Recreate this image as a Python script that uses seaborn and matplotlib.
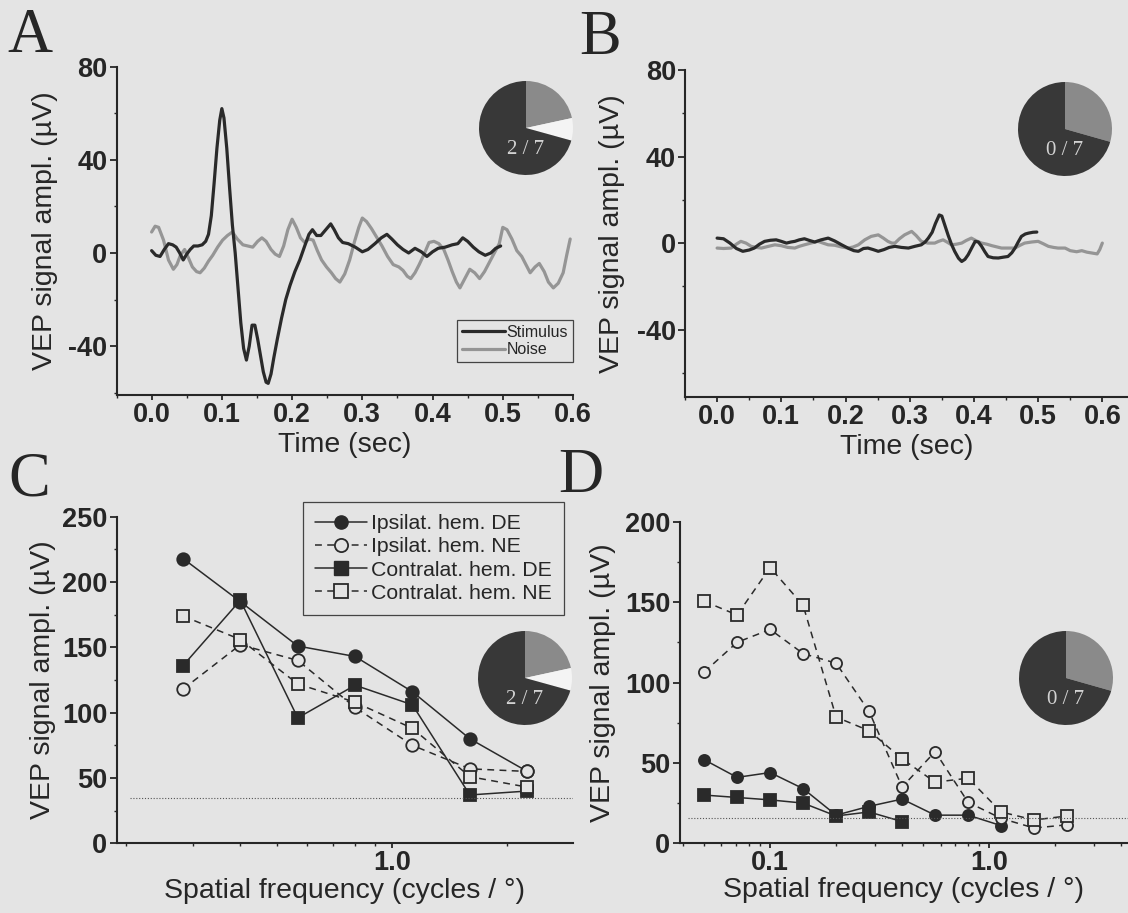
import numpy as np
import pandas as pd
import matplotlib
matplotlib.use("Agg")
import matplotlib.pyplot as plt
import seaborn as sns
from matplotlib.lines import Line2D
from matplotlib.ticker import (MultipleLocator, FixedLocator, FormatStrFormatter,
                               LogLocator, NullFormatter)

# ---------------- data ----------------
# Panel A: averaged VEP trace (stimulus) and noise trace, time in s, amplitude in uV
a_stim_t = [0.000, 0.006, 0.012, 0.018, 0.024, 0.030, 0.035, 0.040, 0.045, 0.050,
            0.055, 0.060, 0.066, 0.072, 0.077, 0.081, 0.085, 0.089, 0.093, 0.097,
            0.100, 0.103, 0.107, 0.111, 0.115, 0.119, 0.123, 0.127, 0.131, 0.135,
            0.139, 0.143, 0.147, 0.151, 0.155, 0.159, 0.163, 0.166, 0.170, 0.174,
            0.179, 0.185, 0.191, 0.197, 0.204, 0.211, 0.218, 0.224, 0.229, 0.235,
            0.241, 0.248, 0.255, 0.260, 0.266, 0.272, 0.280, 0.290, 0.300, 0.308,
            0.318, 0.327, 0.335, 0.342, 0.350, 0.358, 0.366, 0.375, 0.384, 0.392,
            0.400, 0.408, 0.418, 0.428, 0.436, 0.443, 0.450, 0.458, 0.466, 0.475,
            0.483, 0.490, 0.497]
a_stim_v = [1, -1, -1.5, 1.5, 4, 3.5, 2.5, 0, -3, -0.5,
            1.5, 3, 3, 3.5, 5, 8, 16, 30, 45, 57,
            62, 58, 45, 28, 12, 0, -15, -30, -41, -46,
            -40, -31, -31, -37, -44, -51, -55.5, -56, -52, -45,
            -37, -28, -20, -14, -8, -3, 3, 8, 10, 7.5,
            7.5, 10, 12.5, 10, 6.5, 4.5, 4, 2.5, 0.5, 1.5,
            4, 6.5, 8, 6, 3.5, 1.5, 0, 2, 0.5, -1.5,
            0.5, 2, 2.5, 3.5, 4, 6.5, 5, 2.5, 0.5, -1,
            0, 2, 3]
a_noise_t = [0.000, 0.005, 0.010, 0.017, 0.024, 0.031, 0.036, 0.041, 0.047, 0.053,
             0.058, 0.064, 0.069, 0.075, 0.081, 0.087, 0.094, 0.101, 0.108, 0.115,
             0.122, 0.130, 0.137, 0.144, 0.151, 0.157, 0.163, 0.170, 0.176, 0.182,
             0.188, 0.194, 0.200, 0.206, 0.212, 0.218, 0.224, 0.230, 0.236, 0.242,
             0.249, 0.256, 0.262, 0.268, 0.275, 0.282, 0.289, 0.295, 0.300, 0.306,
             0.313, 0.320, 0.328, 0.336, 0.344, 0.352, 0.358, 0.364, 0.369, 0.375,
             0.381, 0.388, 0.395, 0.402, 0.409, 0.416, 0.422, 0.428, 0.434, 0.439,
             0.446, 0.453, 0.460, 0.467, 0.474, 0.481, 0.488, 0.495, 0.500, 0.506,
             0.513, 0.520, 0.527, 0.533, 0.539, 0.546, 0.552, 0.559, 0.565, 0.572,
             0.579, 0.586, 0.591, 0.596]
a_noise_v = [9, 11.5, 11, 5.5, -3, -7, -5, -1, 1.5, -2.5,
             -6, -8, -8.5, -6.5, -3.5, -1, 2.5, 5.5, 7.5, 9,
             6, 3.5, 3, 2.5, 5, 6.5, 5, 1.5, -0.5, -1.5,
             3, 10, 14.5, 11, 6.5, 4.5, 6, 5.5, 1, -3,
             -6, -8.5, -11, -12.5, -9, -3, 5, 11, 15, 13.5,
             10.5, 7, 3, -1.5, -5, -6, -7.5, -10, -11, -8.5,
             -5, -0.5, 4.5, 5, 4, 1.5, -3, -8, -12.5, -15,
             -11, -7, -8.5, -11, -8, -4, 0, 4, 11, 10,
             6, 1, -1.5, -5, -8.5, -6, -4.5, -8, -12.5, -15,
             -13, -8.5, -1, 6]

# Panel B: same recording type, no response
b_stim_t = [0.000, 0.010, 0.020, 0.030, 0.040, 0.050, 0.058, 0.066, 0.074, 0.083,
            0.092, 0.100, 0.108, 0.115, 0.121, 0.128, 0.136, 0.144, 0.152, 0.162,
            0.173, 0.183, 0.194, 0.205, 0.213, 0.220, 0.228, 0.235, 0.243, 0.251,
            0.260, 0.268, 0.277, 0.287, 0.298, 0.308, 0.318, 0.324, 0.329, 0.335,
            0.340, 0.346, 0.350, 0.355, 0.360, 0.365, 0.370, 0.376, 0.381, 0.386,
            0.391, 0.397, 0.402, 0.407, 0.412, 0.417, 0.422, 0.430, 0.438, 0.446,
            0.453, 0.459, 0.464, 0.469, 0.474, 0.480, 0.485, 0.492, 0.498]
b_stim_v = [2.3, 2, 0, -2.5, -3.8, -3.2, -2.3, -0.5, 0.8, 1.3,
            1.5, 0.8, 0, 0.5, 0.8, 1.5, 2, 1.2, 0.5, 1.5,
            2.3, 1, -0.8, -2.5, -3.5, -3.8, -2.5, -2.3, -3, -3.8,
            -3, -2, -1.5, -2, -2.3, -1.5, -0.8, 0.5, 2.3, 5,
            9, 13, 12.5, 8, 3.5, -0.5, -3.8, -7, -8.5, -7.5,
            -5.4, -2, 0.8, 0.5, -1.5, -4, -6.2, -6.8, -6.9, -6.5,
            -6.2, -4.5, -2.3, 0.5, 3.1, 4.2, 4.6, 5, 5.1]
b_noise_t = [0.000, 0.010, 0.022, 0.030, 0.037, 0.045, 0.053, 0.061, 0.069, 0.080,
             0.090, 0.100, 0.110, 0.121, 0.128, 0.136, 0.146, 0.157, 0.165, 0.173,
             0.183, 0.194, 0.204, 0.212, 0.220, 0.230, 0.240, 0.251, 0.259, 0.266,
             0.272, 0.277, 0.284, 0.292, 0.303, 0.310, 0.318, 0.328, 0.339, 0.345,
             0.352, 0.358, 0.365, 0.373, 0.381, 0.388, 0.396, 0.404, 0.412, 0.420,
             0.428, 0.443, 0.455, 0.464, 0.472, 0.479, 0.490, 0.500, 0.508, 0.516,
             0.524, 0.531, 0.542, 0.550, 0.560, 0.568, 0.576, 0.584, 0.592, 0.596,
             0.600]
b_noise_v = [-2.3, -2.5, -2.3, -0.5, 0.8, 0, -1.5, -2, -2.3, -1.5,
             -0.8, -1.2, -2, -2.3, -1.5, -0.8, 0, 0.8, 0, -0.8,
             -1, -1.8, -2.3, -1.8, -0.8, 1.5, 3.1, 3.8, 2.3, 0.8,
             0, 0, 2, 3.8, 5.4, 3.5, 0.8, 0, 0, 0.8,
             1.5, 0.5, -0.8, -0.5, 0, 1.2, 2.3, 1, 0, -0.5,
             -1.2, -2.3, -2.3, -2.3, -1, 0, 0.5, 0.8, -0.3, -1.5,
             -2, -2.3, -2.3, -3.5, -4, -3.5, -4.2, -4.6, -5, -3,
             0]

# Panel C: spatial frequency tuning (cycles/deg) -> amplitude (uV)
c_freq = [0.283, 0.4, 0.566, 0.8, 1.131, 1.6, 2.263]
c_ipsi_de = [218, 185, 151, 143, 116, 80, 55]
c_ipsi_ne = [118, 152, 140, 104, 75, 57, 55]
c_contra_de = [136, 186, 96, 121, 106, 37, 40]
c_contra_ne = [174, 156, 122, 108, 88, 51, 43]
c_noise_level = 35

# Panel D
d_freq = [0.05, 0.0707, 0.1, 0.1414, 0.2, 0.2828, 0.4, 0.5657, 0.8, 1.1314, 1.6, 2.2627]
d_ipsi_de = [52, 41, 44, 34, 17.5, 23, 27.5, 17.5, 17.5, 11]
d_ipsi_ne = [106.5, 125, 133, 118, 112, 82, 35, 57, 25.5, 15.5, 9.5, 11.5]
d_contra_de = [30, 28.5, 27, 25, 17, 19.5, 13.5]
d_contra_ne = [150.5, 142, 171.5, 148, 78.5, 70, 52.5, 38, 40.5, 19.5, 14.5, 17]
d_noise_level = 16

# Fraction pies
pie_ac = [21.6, 7.7, 70.7]
pie_bd = [29.4, 70.6]
pie_text_ac = "2 / 7"
pie_text_bd = "0 / 7"

trace_labels = ["Stimulus", "Noise"]
sf_labels = ["Ipsilat. hem. DE", "Ipsilat. hem. NE",
             "Contralat. hem. DE", "Contralat. hem. NE"]
panel_letters = ["A", "B", "C", "D"]

# ---------------- style ----------------
BG = "#e4e4e4"
INK = "#262626"
DARK = "#2a2a2a"
GREY = "#959595"

sns.set_theme(style="ticks")
plt.rcParams.update({
    "font.family": ["Liberation Sans", "DejaVu Sans"],
    "axes.unicode_minus": False,
    "figure.facecolor": BG,
    "axes.facecolor": BG,
    "savefig.facecolor": BG,
    "axes.edgecolor": INK,
    "axes.linewidth": 1.5,
    "text.color": INK,
    "axes.labelcolor": INK,
    "xtick.color": INK,
    "ytick.color": INK,
})

W, H = 1128, 913
fig = plt.figure(figsize=(W / 100, H / 100), dpi=100)


def box(l, t, r, b):
    return fig.add_axes([l / W, 1 - b / H, (r - l) / W, (b - t) / H])


axA = box(116.5, 66.7, 573, 395)
axB = box(685, 70, 1128, 396.7)
axC = box(116.5, 516.7, 573.4, 843.3)
axD = box(679.5, 521.7, 1128, 843.3)

TICK_FS = 19.5
LABEL_FS = 20.5


def style_axes(ax):
    sns.despine(ax=ax)
    ax.set_facecolor(BG)
    ax.tick_params(axis="y", which="major", direction="out", length=5, width=1.3,
                   pad=1.5, labelsize=TICK_FS)
    ax.tick_params(axis="x", which="major", direction="out", length=3.5, width=1.3,
                   pad=1.5, labelsize=TICK_FS)
    ax.tick_params(which="minor", direction="out", length=2.2, width=1.0)
    for lab in ax.get_xticklabels() + ax.get_yticklabels():
        lab.set_fontweight("bold")


def trace(ax, t, v, color, lw):
    df = pd.DataFrame({"t": t, "v": v})
    sns.lineplot(data=df, x="t", y="v", ax=ax, color=color, linewidth=lw,
                 estimator=None, sort=False, legend=False,
                 solid_joinstyle="round", solid_capstyle="round")


# ---- panels A and B: time courses ----
trace(axA, a_noise_t, a_noise_v, GREY, 2.3)
trace(axA, a_stim_t, a_stim_v, DARK, 2.3)
trace(axB, b_noise_t, b_noise_v, GREY, 2.3)
trace(axB, b_stim_t, b_stim_v, DARK, 2.3)

for ax, ylo, xhi in [(axA, -61, 0.6), (axB, -71, 0.64)]:
    ax.set_xlim(-0.05, xhi)
    ax.set_ylim(ylo, 80)
    ax.xaxis.set_major_locator(MultipleLocator(0.1))
    ax.xaxis.set_minor_locator(MultipleLocator(0.05))
    ax.xaxis.set_major_formatter(FormatStrFormatter("%.1f"))
    ax.yaxis.set_major_locator(FixedLocator([-40, 0, 40, 80]))
    ax.yaxis.set_minor_locator(MultipleLocator(20))
    ax.set_xlabel("Time (sec)", fontsize=LABEL_FS)
    ax.set_ylabel("VEP signal ampl. (µV)", fontsize=LABEL_FS)
    style_axes(ax)

axA.xaxis.set_label_coords(0.5, -0.113)
axB.xaxis.set_label_coords(0.5, -0.115)
axA.yaxis.set_label_coords(-0.128, 0.5)
axB.yaxis.set_label_coords(-0.135, 0.5)

trace_handles = [Line2D([], [], color=DARK, lw=2.3), Line2D([], [], color=GREY, lw=2.3)]
legA = axA.legend(trace_handles, trace_labels, loc="upper left",
                  bbox_to_anchor=(457 / W, 1 - 320 / H), bbox_transform=fig.transFigure,
                  fontsize=11.5, handlelength=2.7, handletextpad=0.1, borderpad=0.3,
                  labelspacing=0.15, frameon=True, fancybox=False, framealpha=1,
                  facecolor=BG, edgecolor="#444444", borderaxespad=0)
legA.get_frame().set_linewidth(0.9)

# ---- panels C and D: spatial frequency tuning ----
DASH = (0, (4.5, 3.5))
series_style = {
    "ipsi_de": dict(marker="o", mfc=DARK, ls="-"),
    "contra_de": dict(marker="s", mfc=DARK, ls="-"),
    "ipsi_ne": dict(marker="o", mfc=BG, ls=DASH),
    "contra_ne": dict(marker="s", mfc=BG, ls=DASH),
}


def tuning(ax, f, v, key, ms):
    st = series_style[key]
    n = min(len(f), len(v))
    df = pd.DataFrame({"f": f[:n], "v": v[:n]})
    sns.lineplot(data=df, x="f", y="v", ax=ax, color=DARK, linewidth=1.1,
                 linestyle=st["ls"], marker=st["marker"], markersize=ms,
                 markerfacecolor=st["mfc"], markeredgecolor=DARK,
                 markeredgewidth=1.3, estimator=None, sort=False, legend=False)


for ax, f, sets, ms in [
    (axC, c_freq, [("ipsi_de", c_ipsi_de), ("contra_de", c_contra_de),
                   ("ipsi_ne", c_ipsi_ne), ("contra_ne", c_contra_ne)], 9),
    (axD, d_freq, [("ipsi_de", d_ipsi_de), ("contra_de", d_contra_de),
                   ("ipsi_ne", d_ipsi_ne), ("contra_ne", d_contra_ne)], 8),
]:
    for key, vals in sets:
        tuning(ax, f, vals, key, ms)

axC.axhline(c_noise_level, xmin=0.03, xmax=1, color="#555555", lw=0.8, ls=(0, (1, 1.6)))
axD.axhline(d_noise_level, xmin=0.02, xmax=1, color="#555555", lw=0.8, ls=(0, (1, 1.6)))

axC.set_xscale("log")
axD.set_xscale("log")
axC.set_xlim(0.1894, 2.99)
axD.set_xlim(0.0386, 4.29)
axC.set_ylim(0, 250)
axD.set_ylim(0, 200)
axC.xaxis.set_major_locator(FixedLocator([1.0]))
axD.xaxis.set_major_locator(FixedLocator([0.1, 1.0]))
for ax in (axC, axD):
    ax.xaxis.set_major_formatter(FormatStrFormatter("%.1f"))
    ax.xaxis.set_minor_locator(LogLocator(base=10, subs=np.arange(2, 10), numticks=20))
    ax.xaxis.set_minor_formatter(NullFormatter())
    ax.yaxis.set_major_locator(MultipleLocator(50))
    ax.yaxis.set_minor_locator(MultipleLocator(25))
    ax.set_xlabel("Spatial frequency (cycles / °)", fontsize=LABEL_FS)
    ax.set_ylabel("VEP signal ampl. (µV)", fontsize=LABEL_FS)
    style_axes(ax)

axC.xaxis.set_label_coords(0.5, -0.106)
axD.xaxis.set_label_coords(0.5, -0.106)
axC.yaxis.set_label_coords(-0.132, 0.5)
axD.yaxis.set_label_coords(-0.1416, 0.5)

sf_handles = [
    Line2D([], [], color=DARK, lw=1.1, ls="-", marker="o", ms=9.5, mfc=DARK, mec=DARK),
    Line2D([], [], color=DARK, lw=1.1, ls=DASH, marker="o", ms=9.5, mfc=BG, mec=DARK, mew=1.3),
    Line2D([], [], color=DARK, lw=1.1, ls="-", marker="s", ms=9.5, mfc=DARK, mec=DARK),
    Line2D([], [], color=DARK, lw=1.1, ls=DASH, marker="s", ms=9.5, mfc=BG, mec=DARK, mew=1.3),
]
legC = axC.legend(sf_handles, sf_labels, loc="upper left",
                  bbox_to_anchor=(303 / W, 1 - 502 / H), bbox_transform=fig.transFigure,
                  fontsize=15.3, handlelength=2.45, handletextpad=0.2, borderpad=0.57,
                  labelspacing=0.2, frameon=True, fancybox=False, framealpha=1,
                  facecolor=BG, edgecolor="#444444", borderaxespad=0)
legC.get_frame().set_linewidth(0.9)

# ---- fraction pies ----
PIE_DARK = "#383838"
PIE_GREY = "#8a8a8a"
PIE_WHITE = "#f4f4f4"


def pie(cx, cy, r, vals, colors, text):
    ax = fig.add_axes([(cx - r) / W, 1 - (cy + r) / H, 2 * r / W, 2 * r / H])
    ax.pie(vals, colors=colors, startangle=90, counterclock=False,
           wedgeprops=dict(linewidth=0))
    ax.set_xlim(-1.0, 1.0)
    ax.set_ylim(-1.0, 1.0)
    ax.set_aspect("equal")
    ax.axis("off")
    ax.text(0, -0.45, text, ha="center", va="center", color="#d2d2d2",
            fontsize=15, family=["Liberation Serif", "DejaVu Serif"])


pie(526, 128, 47, pie_ac, [PIE_GREY, PIE_WHITE, PIE_DARK], pie_text_ac)
pie(1065, 129, 47, pie_bd, [PIE_GREY, PIE_DARK], pie_text_bd)
pie(525, 678, 47, pie_ac, [PIE_GREY, PIE_WHITE, PIE_DARK], pie_text_ac)
pie(1066, 678, 47, pie_bd, [PIE_GREY, PIE_DARK], pie_text_bd)

# ---- panel letters ----
for letter, x, y in zip(panel_letters, [7, 579, 8, 558], [52, 54, 495, 492]):
    fig.text(x / W, 1 - y / H, letter, ha="left", va="baseline", fontsize=45,
             family=["Liberation Serif", "DejaVu Serif"], color=INK)

fig.savefig("out.png", dpi=100, facecolor=BG)
